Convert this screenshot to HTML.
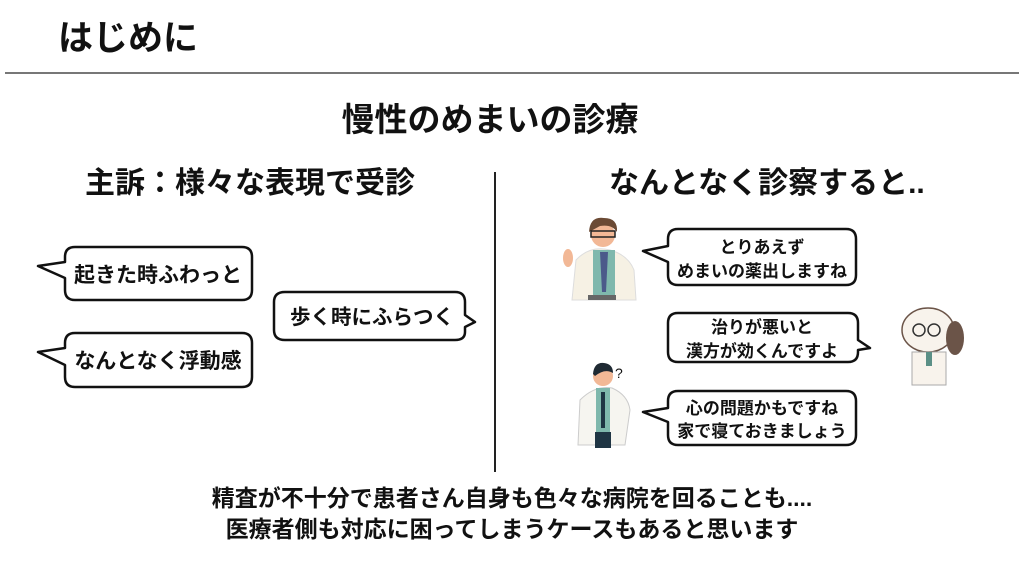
<!DOCTYPE html>
<html><head><meta charset="utf-8"><style>
body{margin:0;width:1024px;height:576px;background:#fff;overflow:hidden;font-family:"Liberation Sans","Noto Sans CJK JP",sans-serif;}
svg{position:absolute;left:0;top:0}
text{font-family:"Liberation Sans","Noto Sans CJK JP",sans-serif;font-weight:bold;fill:#111}
</style></head><body>
<svg width="1024" height="576" viewBox="0 0 1024 576">
<text x="58" y="50" font-size="35" fill="#222">はじめに</text>
<line x1="5" y1="73" x2="1019" y2="73" stroke="#777" stroke-width="2"/>
<text x="490" y="131" font-size="33" text-anchor="middle">慢性のめまいの診療</text>
<text x="85" y="193" font-size="30">主訴：様々な表現で受診</text>
<text x="609" y="193" font-size="30">なんとなく診察すると..</text>
<line x1="495" y1="172" x2="495" y2="472" stroke="#222" stroke-width="2"/>
<g fill="#fff" stroke="#111" stroke-width="2.5" stroke-linejoin="round">
<path d="M75 247 H242 Q252 247 252 257 V290 Q252 300 242 300 H75 Q65 300 65 290 V278 L38 266 L65 262 V257 Q65 247 75 247Z"/>
<path d="M75 333 H242 Q252 333 252 343 V377 Q252 387 242 387 H75 Q65 387 65 377 V365 L38 352 L65 348 V343 Q65 333 75 333Z"/>
<path d="M285 292 H455 Q465 292 465 302 V315 L475 322 L465 327 V332 Q465 340 455 340 H285 Q274 340 274 330 V302 Q274 292 285 292Z"/>
<path d="M678 229 H846 Q856 229 856 239 V275 Q856 285 846 285 H678 Q668 285 668 275 V262 L643 251 L668 246 V239 Q668 229 678 229Z"/>
<path d="M678 313 H848 Q858 313 858 323 V340 L870 348 L858 350 V352 Q858 362 848 362 H678 Q668 362 668 352 V323 Q668 313 678 313Z"/>
<path d="M678 391 H846 Q856 391 856 401 V435 Q856 445 846 445 H678 Q668 445 668 435 V422 L643 412 L668 408 V401 Q668 391 678 391Z"/>
</g>
<text x="158" y="282" font-size="21" text-anchor="middle">起きた時ふわっと</text>
<text x="158" y="368" font-size="21" text-anchor="middle">なんとなく浮動感</text>
<text x="372" y="324" font-size="20.5" text-anchor="middle">歩く時にふらつく</text>
<text x="762" y="253" font-size="17" text-anchor="middle">とりあえず</text>
<text x="762" y="277" font-size="17" text-anchor="middle">めまいの薬出しますね</text>
<text x="762" y="333" font-size="17" text-anchor="middle">治りが悪いと</text>
<text x="762" y="357" font-size="17" text-anchor="middle">漢方が効くんですよ</text>
<text x="762" y="414" font-size="17" text-anchor="middle">心の問題かもですね</text>
<text x="762" y="437" font-size="17" text-anchor="middle">家で寝ておきましょう</text>
<!-- doctor 1 -->
<path d="M572 300 L576 260 Q590 245 610 250 Q628 255 634 270 L636 300Z" fill="#f6f1e4" stroke="#ddd"/>
<rect x="593" y="250" width="22" height="48" fill="#7fb8ad"/>
<path d="M600 252 L608 252 L606 292 L602 292Z" fill="#4b5a8a"/>
<rect x="588" y="295" width="28" height="5" fill="#666"/>
<circle cx="603" cy="235" r="12" fill="#f2b896"/>
<path d="M589 232 Q590 216 604 218 Q618 218 617 232 Q612 224 600 226Z" fill="#6b4a34"/>
<rect x="591" y="231" width="24" height="6" fill="none" stroke="#222" stroke-width="1.5"/>
<ellipse cx="568" cy="258" rx="5" ry="9" fill="#f2b896"/>
<!-- dog -->
<ellipse cx="928" cy="330" rx="26" ry="22" fill="#f8f3ec" stroke="#6b5448" stroke-width="1.5"/>
<ellipse cx="955" cy="338" rx="9" ry="17" fill="#6b5448"/>
<circle cx="919" cy="330" r="6" fill="none" stroke="#333" stroke-width="1.5"/>
<circle cx="934" cy="330" r="6" fill="none" stroke="#333" stroke-width="1.5"/>
<path d="M912 352 H946 V385 H912Z" fill="#f8f3ec" stroke="#aaa"/>
<rect x="926" y="352" width="6" height="14" fill="#5b8f86"/>
<!-- doctor 3 -->
<path d="M578 445 L580 400 Q595 385 612 388 Q628 395 630 410 L625 445Z" fill="#f6f5f0" stroke="#ccc"/>
<rect x="596" y="388" width="14" height="45" fill="#7fb8ad"/>
<rect x="601" y="392" width="4" height="36" fill="#1f3544"/>
<rect x="595" y="432" width="16" height="16" fill="#1f3544"/>
<circle cx="603" cy="376" r="10" fill="#f2b896"/>
<path d="M593 374 Q594 362 604 363 Q613 364 613 373 Q605 368 595 376Z" fill="#1f2a33"/>
<text x="615" y="378" font-size="14" fill="#ccc" style="font-weight:normal">?</text>
<text x="512" y="506" font-size="23" text-anchor="middle">精査が不十分で患者さん自身も色々な病院を回ることも....</text>
<text x="512" y="537" font-size="23" text-anchor="middle">医療者側も対応に困ってしまうケースもあると思います</text>
</svg>
</body></html>
